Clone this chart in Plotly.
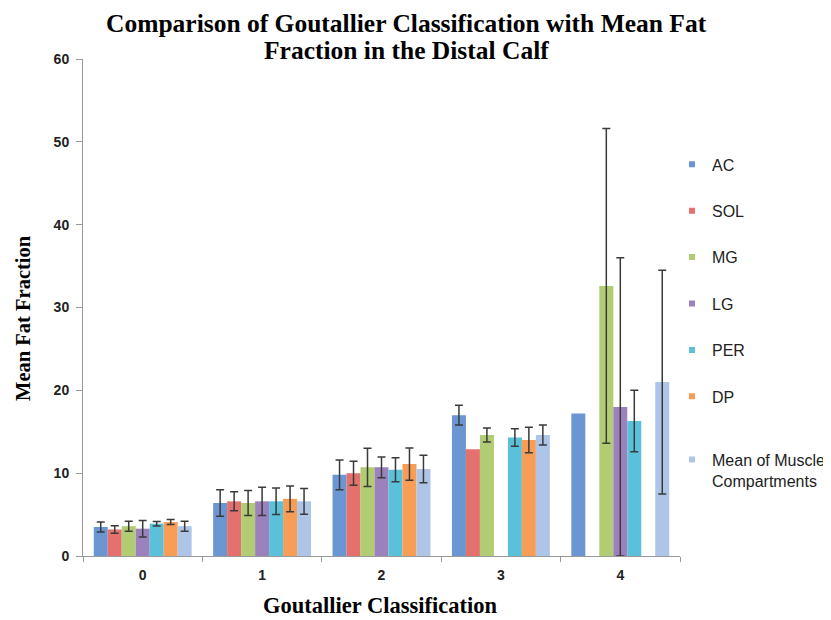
import plotly.graph_objects as go

categories = ["0", "1", "2", "3", "4"]
series_names = ["AC", "SOL", "MG", "LG", "PER", "DP", "Mean of Muscle<br>Compartments"]

ac_vals = [3.5, 6.4, 9.8, 17.0, 17.2]
ac_err = [0.6, 1.6, 1.8, 1.2, None]
sol_vals = [3.2, 6.6, 10.0, 12.9, None]
sol_err = [0.45, 1.15, 1.45, None, None]
mg_vals = [3.6, 6.4, 10.7, 14.6, 32.6]
mg_err = [0.6, 1.5, 2.3, 0.85, 19.0]
lg_vals = [3.3, 6.6, 10.7, None, 18.0]
lg_err = [1.0, 1.7, 1.25, None, 18.0]
per_vals = [3.9, 6.6, 10.4, 14.3, 16.3]
per_err = [0.27, 1.6, 1.45, 1.05, 3.7]
dp_vals = [4.1, 6.9, 11.1, 14.0, None]
dp_err = [0.3, 1.55, 1.95, 1.55, None]
mean_vals = [3.6, 6.6, 10.5, 14.6, 21.0]
mean_err = [0.6, 1.55, 1.65, 1.2, 13.5]

title_lines = ["Comparison of Goutallier Classification with Mean Fat",
               "Fraction in the Distal Calf"]
x_title = "Goutallier Classification"
y_title = "Mean Fat Fraction"

values = [ac_vals, sol_vals, mg_vals, lg_vals, per_vals, dp_vals, mean_vals]
errors = [ac_err, sol_err, mg_err, lg_err, per_err, dp_err, mean_err]
colors = ["#6b96d1", "#e4716d", "#b1cc72", "#9b82bc", "#5bc0d9", "#f89d55", "#aec5e8"]

fig = go.Figure()
for i, (name, v, e, c) in enumerate(zip(series_names, values, errors, colors)):
    # bars that carry an error bar
    v_with = [val if err is not None else None for val, err in zip(v, e)]
    # bars without an error bar (same slot in the group)
    v_without = [val if err is None else None for val, err in zip(v, e)]
    fig.add_trace(go.Bar(
        x=categories, y=v_with, name=name, showlegend=False, offsetgroup=str(i),
        marker=dict(color=c, line=dict(width=0)),
        error_y=dict(type="data", array=[err if err is not None else 0 for err in e],
                     visible=True, color="#3a3a3a", thickness=1.5, width=4),
    ))
    fig.add_trace(go.Bar(
        x=categories, y=v_without, name=name, showlegend=False, offsetgroup=str(i),
        marker=dict(color=c, line=dict(width=0)),
    ))

# legend entries (small square swatches like the reference)
for i, (name, c) in enumerate(zip(series_names, colors)):
    fig.add_trace(go.Scatter(
        x=[None], y=[None], mode="markers", name=name,
        marker=dict(symbol="square", size=6, color=c),
        legendgroup=f"g{i}",
        legend="legend2" if i == len(series_names) - 1 else "legend",
    ))

serif_bold = dict(family="Liberation Serif", color="black", weight="bold")
legend_font = dict(family="Liberation Sans", size=16, color="#222")

fig.update_layout(
    width=823, height=612,
    paper_bgcolor="white", plot_bgcolor="white",
    barmode="group", bargap=0.18, bargroupgap=0,
    margin=dict(l=75, r=151, t=51, b=64, autoexpand=False),
    legend=dict(
        x=0.9866, y=0.8221, xanchor="left", yanchor="top",
        font=legend_font, tracegroupgap=22.6, itemwidth=30,
        bgcolor="rgba(0,0,0,0)",
    ),
    legend2=dict(
        x=0.9866, y=0.2280, xanchor="left", yanchor="top", valign="top",
        font=legend_font, itemwidth=30, bgcolor="rgba(0,0,0,0)",
    ),
    showlegend=True,
)
fig.add_annotation(text=title_lines[0], xref="paper", yref="paper", x=0.5427, y=1,
                   yshift=36, xanchor="center", yanchor="middle", showarrow=False,
                   font=dict(size=25.5, **serif_bold))
fig.add_annotation(text=title_lines[1], xref="paper", yref="paper", x=0.5427, y=1,
                   yshift=9, xanchor="center", yanchor="middle", showarrow=False,
                   font=dict(size=25.5, **serif_bold))
fig.add_annotation(text=y_title, xref="paper", yref="paper", x=-0.1005, y=0.479,
                   xanchor="center", yanchor="middle", textangle=-90, showarrow=False,
                   font=dict(size=20.5, **serif_bold))
fig.add_annotation(text=x_title, xref="paper", yref="paper", x=0.498, y=0,
                   yshift=-49, xanchor="center", yanchor="middle", showarrow=False,
                   font=dict(size=22.5, **serif_bold))

fig.update_yaxes(
    range=[0, 60], dtick=10, showgrid=False, zeroline=False, automargin=False,
    showline=True, linecolor="#999", linewidth=1,
    ticks="outside", ticklen=6, tickcolor="#999", ticklabelstandoff=4,
    tickfont=dict(family="Liberation Sans", size=14, color="#222", weight="bold"),
)
fig.update_xaxes(
    showgrid=False, showline=True, linecolor="#999", linewidth=1, automargin=False,
    ticks="outside", ticklen=5, tickcolor="#999", tickson="boundaries",
    ticklabelstandoff=6,
    tickfont=dict(family="Liberation Sans", size=14, color="#222", weight="bold"),
)

fig.write_html("out.html")
